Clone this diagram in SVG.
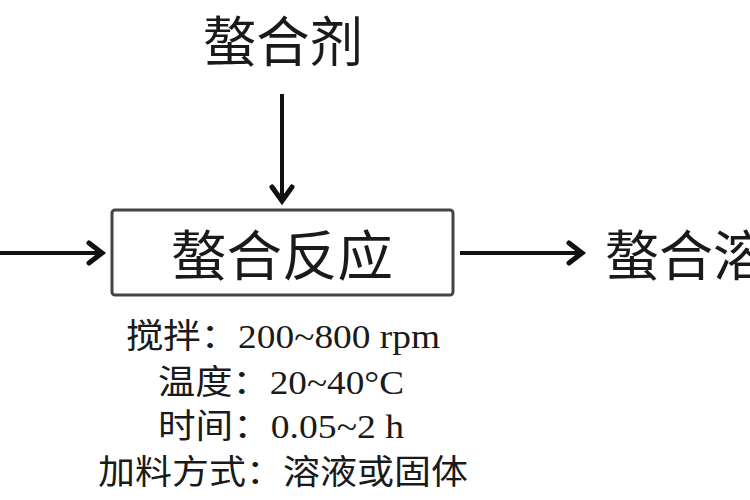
<svg xmlns="http://www.w3.org/2000/svg" width="750" height="500" viewBox="0 0 750 500">
<defs>
<style>
.t{font-family:"Liberation Serif","Noto Sans CJK SC",serif;fill:#1a1a1a;text-anchor:middle}
.big{font-size:54px}
.small{font-size:34px}
.line{stroke:#111;stroke-width:4;fill:none}
.head{stroke:#111;stroke-width:5;fill:none;stroke-linecap:round;stroke-linejoin:miter}
</style>
</defs>
<rect width="750" height="500" fill="#ffffff"/>
<g id="node-chelator">
<text class="t big" x="283" y="62" textLength="160" lengthAdjust="spacingAndGlyphs">螯合剂</text>
</g>
<g id="node-reaction">
<rect x="112" y="210" width="341" height="85" rx="3" fill="none" stroke="#444" stroke-width="3"/>
<text class="t big" x="282" y="276" textLength="222" lengthAdjust="spacingAndGlyphs">螯合反应</text>
</g>
<g id="node-product">
<text class="t big" x="605" y="276" style="text-anchor:start">螯合溶液</text>
</g>
<g id="node-conditions">
<text class="t small" x="283" y="348" textLength="314" lengthAdjust="spacingAndGlyphs">搅拌：200~800 rpm</text>
<text class="t small" x="281" y="394" textLength="246" lengthAdjust="spacingAndGlyphs">温度：20~40°C</text>
<text class="t small" x="281" y="438" textLength="246" lengthAdjust="spacingAndGlyphs">时间：0.05~2 h</text>
<text class="t small" x="283" y="484" textLength="370" lengthAdjust="spacingAndGlyphs">加料方式：溶液或固体</text>
</g>
<g id="connectors">
<line class="line" x1="282" y1="94" x2="282" y2="200"/>
<polyline class="head" points="272,187 282,201 292,187"/>
<line class="line" x1="0" y1="253" x2="100" y2="253"/>
<polyline class="head" points="89,243 102,253 89,263"/>
<line class="line" x1="460" y1="253" x2="580" y2="253"/>
<polyline class="head" points="569,243 582,253 569,263"/>
</g>
</svg>
